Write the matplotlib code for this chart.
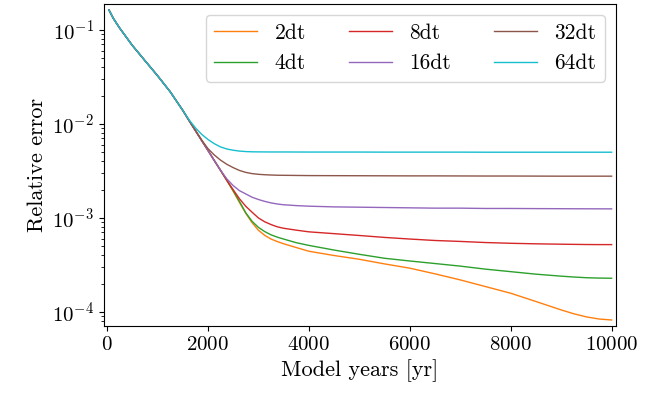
import matplotlib
matplotlib.use("Agg")
import matplotlib.pyplot as plt

plt.rcParams["font.family"] = "serif"
plt.rcParams["font.serif"] = ["cmr10"]
plt.rcParams["mathtext.fontset"] = "cm"
plt.rcParams["axes.formatter.use_mathtext"] = True
plt.rcParams["font.size"] = 16
plt.rcParams["xtick.labelsize"] = 15
plt.rcParams["ytick.labelsize"] = 15

years = [40, 125, 250, 500, 750, 1000, 1250, 1500, 1625, 1750, 1875, 2000, 2125,
         2250, 2375, 2500, 2625, 2750, 2875, 3000, 3125, 3250, 3375, 3500, 3750,
         4000, 4500, 5000, 5500, 6000, 6500, 7000, 7500, 8000, 8500, 9000, 9250,
         9500, 9750, 10000]

# shared start (40 .. 1500 yr) and shared steep part (1625 .. 2375 yr)
head = [0.163, 0.133, 0.105, 0.0687, 0.0473, 0.0327, 0.0221, 0.0140]
steep = [0.0109, 8.55e-3, 6.68e-3, 5.24e-3, 4.09e-3, 3.21e-3, 2.51e-3]

err_2dt = head + steep + [
    1.93e-3, 1.46e-3, 1.12e-3, 8.9e-4, 7.4e-4, 6.53e-4, 5.96e-4, 5.60e-4, 5.31e-4,
    4.84e-4, 4.42e-4, 3.98e-4, 3.63e-4, 3.24e-4, 2.92e-4, 2.54e-4, 2.19e-4,
    1.86e-4, 1.58e-4, 1.29e-4, 1.05e-4, 9.55e-5, 8.85e-5, 8.4e-5, 8.2e-5]
err_4dt = head + steep + [
    1.95e-3, 1.50e-3, 1.135e-3, 9.2e-4, 7.94e-4, 7.16e-4, 6.61e-4, 6.24e-4, 5.96e-4,
    5.45e-4, 5.1e-4, 4.55e-4, 4.1e-4, 3.72e-4, 3.48e-4, 3.27e-4, 3.07e-4,
    2.85e-4, 2.68e-4, 2.52e-4, 2.40e-4, 2.35e-4, 2.31e-4, 2.29e-4, 2.28e-4]
err_8dt = head + steep + [
    2.0e-3, 1.60e-3, 1.33e-3, 1.15e-3, 1.0e-3, 9.1e-4, 8.5e-4, 8.04e-4, 7.76e-4,
    7.41e-4, 7.11e-4, 6.8e-4, 6.5e-4, 6.2e-4, 5.96e-4, 5.75e-4, 5.62e-4,
    5.47e-4, 5.37e-4, 5.30e-4, 5.25e-4, 5.23e-4, 5.21e-4, 5.20e-4, 5.20e-4]
err_16dt = head + steep[:5] + [3.22e-3, 2.60e-3] + [
    2.21e-3, 1.95e-3, 1.80e-3, 1.66e-3, 1.57e-3, 1.50e-3, 1.445e-3, 1.406e-3, 1.38e-3,
    1.352e-3, 1.333e-3, 1.31e-3, 1.30e-3, 1.29e-3, 1.28e-3, 1.27e-3, 1.27e-3,
    1.26e-3, 1.26e-3, 1.256e-3, 1.253e-3, 1.251e-3, 1.25e-3, 1.249e-3, 1.248e-3]
err_32dt = head + steep[:2] + [6.76e-3, 5.47e-3, 4.68e-3, 4.12e-3, 3.72e-3] + [
    3.43e-3, 3.20e-3, 3.05e-3, 2.96e-3, 2.91e-3, 2.88e-3, 2.86e-3, 2.845e-3, 2.84e-3,
    2.83e-3, 2.82e-3, 2.815e-3, 2.81e-3, 2.805e-3, 2.80e-3, 2.80e-3, 2.795e-3,
    2.79e-3, 2.79e-3, 2.785e-3, 2.78e-3, 2.78e-3, 2.78e-3, 2.78e-3, 2.78e-3]
err_64dt = head + [0.0111, 9.12e-3, 7.76e-3, 6.84e-3, 6.17e-3, 5.69e-3, 5.41e-3] + [
    5.25e-3, 5.14e-3, 5.08e-3, 5.05e-3, 5.04e-3, 5.035e-3, 5.03e-3, 5.03e-3, 5.03e-3,
    5.025e-3, 5.02e-3, 5.02e-3, 5.02e-3, 5.01e-3, 5.01e-3, 5.01e-3, 5.01e-3,
    5.0e-3, 5.0e-3, 5.0e-3, 5.0e-3, 5.0e-3, 5.0e-3, 5.0e-3, 5.0e-3]

labels = ["2dt", "4dt", "8dt", "16dt", "32dt", "64dt"]
series = [err_2dt, err_4dt, err_8dt, err_16dt, err_32dt, err_64dt]
colors = ["tab:orange", "tab:green", "tab:red", "tab:purple", "tab:brown", "tab:cyan"]

fig = plt.figure(figsize=(6.62, 3.95), dpi=100)
ax = fig.add_axes([0.157, 0.175, 0.773, 0.815])

for err, lab, c in zip(series, labels, colors):
    ax.semilogy(years, err, color=c, lw=1.0, label=lab)

ax.set_xlim(-60, 10080)
ax.set_ylim(7.1e-5, 0.189)
ax.set_xticks([0, 2000, 4000, 6000, 8000, 10000])
ax.set_xlabel("Model years [yr]")
ax.set_ylabel("Relative error")
ax.legend(ncol=3, loc="upper right", fontsize=15.5)

fig.savefig("out.png", dpi=100)
